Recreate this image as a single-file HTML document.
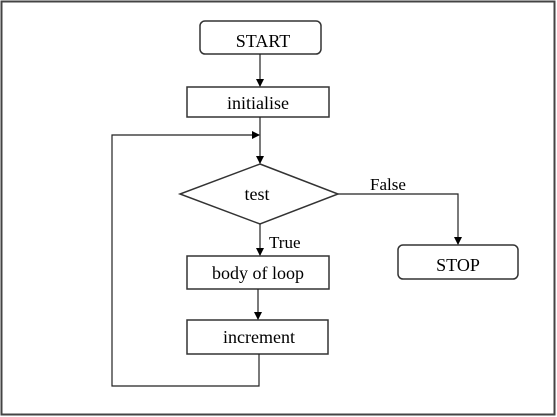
<!DOCTYPE html>
<html><head><style>body{margin:0;background:#fff}svg{display:block}</style></head><body>
<svg width="557" height="417" xmlns="http://www.w3.org/2000/svg" font-family="Liberation Serif, serif" font-size="18">
<defs><marker id="a" markerWidth="8" markerHeight="8" refX="7" refY="4" orient="auto" markerUnits="userSpaceOnUse"><path d="M0,0L8,4L0,8z" fill="#000"/></marker></defs>
<rect x="1.5" y="1.5" width="553" height="413" fill="none" stroke="#444" stroke-width="2"/>
<g stroke="#333" stroke-width="1.5" fill="none">
<rect x="200" y="21" width="121" height="33" rx="5"/>
<rect x="187" y="87" width="142" height="30"/>
<polygon points="260,164 338,194 260,224 180,194"/>
<rect x="398" y="245" width="120" height="34" rx="5"/>
<rect x="187" y="256" width="142" height="33"/>
<rect x="187" y="320" width="141" height="34"/>
</g>
<g stroke="#222" stroke-width="1.2" fill="none">
<line x1="260" y1="54" x2="260" y2="86" marker-end="url(#a)"/>
<line x1="260" y1="117" x2="260" y2="163" marker-end="url(#a)"/>
<polyline points="259,354 259,386 112,386 112,135 259,135" marker-end="url(#a)"/>
<polyline points="338,194 458,194 458,244" marker-end="url(#a)"/>
<line x1="260" y1="224" x2="260" y2="255" marker-end="url(#a)"/>
<line x1="258" y1="289" x2="258" y2="319" marker-end="url(#a)"/>
</g>
<g text-anchor="middle" fill="#000">
<text x="263" y="47">START</text>
<text x="258" y="109">initialise</text>
<text x="257" y="200">test</text>
<text x="458" y="271">STOP</text>
<text x="258" y="279">body of loop</text>
<text x="259" y="343">increment</text>
</g>
<text x="370" y="190" fill="#000" font-size="17">False</text>
<text x="269" y="248" fill="#000" font-size="17">True</text>
</svg>
</body></html>
